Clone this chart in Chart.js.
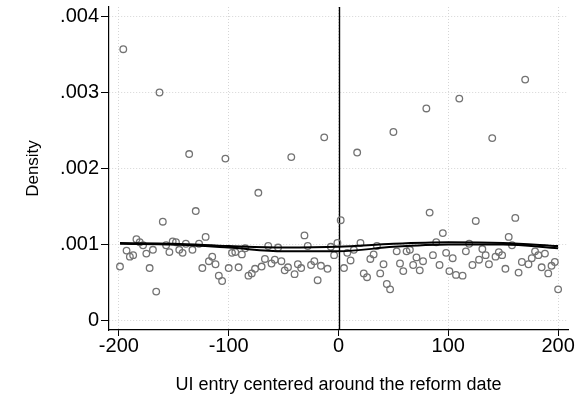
<!DOCTYPE html>
<html>
<head>
<meta charset="utf-8">
<script src="https://cdn.jsdelivr.net/npm/chart.js@4/dist/chart.umd.min.js"></script>
<style>
  html, body { margin: 0; padding: 0; background: #fff; }
  #wrap { width: 586px; height: 396px; }
</style>
</head>
<body>
<div id="wrap"><canvas id="c" width="586" height="396"></canvas></div>
<script>
// Binned density of UI entries (days relative to the reform date)
const binX = [
  -199, -196, -193, -190, -187, -184, -181, -178, -175, -172, -169, -166, -163, -160, -157, -154, -151,
  -148, -145, -142, -139, -136, -133, -130, -127, -124, -121, -118, -115, -112, -109, -106, -103, -100,
  -97, -94, -91, -88, -85, -82, -79, -76, -73, -70, -67, -64, -61, -58, -55, -52, -49, -46, -43, -40,
  -37, -34, -31, -28, -25, -22, -19, -16, -13, -10, -7, -4, -1,
  2, 5, 8, 11, 14, 17, 20, 23, 26, 29, 32, 35, 38, 41, 44, 47, 50, 53, 56, 59, 62, 65, 68, 71, 74, 77,
  80, 83, 86, 89, 92, 95, 98, 101, 104, 107, 110, 113, 116, 119, 122, 125, 128, 131, 134, 137, 140,
  143, 146, 149, 152, 155, 158, 161, 164, 167, 170, 173, 176, 179, 182, 185, 188, 191, 194, 197, 200
];
const binDensity = [
  0.00071, 0.00357, 0.00092, 0.00084, 0.00086, 0.00107, 0.00103, 0.00099, 0.00088, 0.00069, 0.00093, 0.00038, 0.00300, 0.00130, 0.00099, 0.00090, 0.00104,
  0.00103, 0.00093, 0.00089, 0.00101, 0.00219, 0.00093, 0.00144, 0.00101, 0.00069, 0.00110, 0.00078, 0.00084, 0.00074, 0.00059, 0.00052, 0.00213, 0.00069,
  0.00089, 0.00090, 0.00070, 0.00087, 0.00095, 0.00059, 0.00062, 0.00068, 0.00168, 0.00071, 0.00081, 0.00098, 0.00075, 0.00080, 0.00096, 0.00078, 0.00066, 0.00070, 0.00215, 0.00061,
  0.00074, 0.00069, 0.00112, 0.00098, 0.00073, 0.00078, 0.00053, 0.00072, 0.00241, 0.00068, 0.00097, 0.00086, 0.00102,
  0.00132, 0.00069, 0.00089, 0.00079, 0.00093, 0.00221, 0.00102, 0.00062, 0.00057, 0.00081, 0.00087, 0.00098, 0.00062, 0.00074, 0.00048, 0.00041, 0.00248, 0.00091, 0.00075, 0.00065, 0.00091, 0.00093, 0.00073, 0.00083, 0.00066, 0.00078,
  0.00279, 0.00142, 0.00086, 0.00103, 0.00073, 0.00115, 0.00089, 0.00065, 0.00082, 0.00060, 0.00292, 0.00059, 0.00091, 0.00101, 0.00073, 0.00131, 0.00080, 0.00094, 0.00086, 0.00074, 0.00240,
  0.00084, 0.00090, 0.00086, 0.00068, 0.00110, 0.00099, 0.00135, 0.00063, 0.00077, 0.00317, 0.00074, 0.00082, 0.00091, 0.00086, 0.00070, 0.00088, 0.00062, 0.00072, 0.00077, 0.00041
];

// Smoothed density fits
const fitX = [-199, -150, -100, -50, 0, 50, 100, 150, 200];
const fitUpper = [0.00102, 0.00101, 0.00098, 0.00096, 0.00097, 0.00101, 0.00103, 0.00102, 0.00098];
const fitLower = [0.00101, 0.00100, 0.00096, 0.00091, 0.00091, 0.00097, 0.00100, 0.00100, 0.00095];

const xTicks = [-200, -100, 0, 100, 200];
const yTicks = [0, 0.001, 0.002, 0.003, 0.004];
const cutoff = 0;

const FONT = "'Liberation Sans', Arial, Helvetica, sans-serif";

const toPts = (xs, ys) => xs.map((x, i) => ({ x: x, y: ys[i] }));

// vertical line at the reform date
const cutoffLine = {
  id: 'cutoffLine',
  beforeDatasetsDraw(chart) {
    const { ctx, chartArea, scales } = chart;
    const px = Math.round(scales.x.getPixelForValue(cutoff)) + 0.5;
    ctx.save();
    ctx.strokeStyle = '#000';
    ctx.lineWidth = 1.4;
    ctx.beginPath();
    ctx.moveTo(px, chartArea.top);
    ctx.lineTo(px, chartArea.bottom);
    ctx.stroke();
    ctx.restore();
  }
};

new Chart(document.getElementById('c'), {
  type: 'scatter',
  data: {
    datasets: [
      {
        type: 'line',
        data: toPts(fitX, fitUpper),
        borderColor: '#000',
        borderWidth: 2,
        pointRadius: 0,
        cubicInterpolationMode: 'monotone',
        fill: false
      },
      {
        type: 'line',
        data: toPts(fitX, fitLower),
        borderColor: '#000',
        borderWidth: 2,
        pointRadius: 0,
        cubicInterpolationMode: 'monotone',
        fill: false
      },
      {
        data: toPts(binX, binDensity),
        pointRadius: 3.3,
        pointBorderWidth: 1.3,
        pointBorderColor: '#737373',
        pointBackgroundColor: 'rgba(0,0,0,0)'
      }
    ]
  },
  options: {
    responsive: false,
    animation: false,
    layout: { padding: { top: 7, right: 18, left: 0, bottom: 0 } },
    plugins: {
      legend: { display: false },
      tooltip: { enabled: false }
    },
    scales: {
      x: {
        type: 'linear',
        min: -209,
        max: 209,
        afterBuildTicks: s => { s.ticks = xTicks.map(v => ({ value: v })); },
        afterFit: s => { s.height = 66; s.paddingLeft = 0; s.paddingRight = 0; },
        ticks: {
          color: '#000',
          font: { family: FONT, size: 20 },
          padding: -2,
          maxRotation: 0,
          callback: v => String(v)
        },
        grid: {
          color: '#d6d6d6',
          lineWidth: 1,
          tickLength: 6,
          tickColor: '#000',
          tickBorderDash: []
        },
        border: { display: true, color: '#000', width: 1.2, dash: [1, 2] },
        title: {
          display: true,
          text: 'UI entry centered around the reform date',
          color: '#000',
          font: { family: FONT, size: 18 },
          padding: { top: 12, bottom: 0 }
        }
      },
      y: {
        type: 'linear',
        min: -0.000125,
        max: 0.004125,
        afterBuildTicks: s => { s.ticks = yTicks.map(v => ({ value: v })); },
        afterFit: s => { s.width = 109; s.paddingTop = 0; s.paddingBottom = 0; },
        ticks: {
          color: '#000',
          font: { family: FONT, size: 20 },
          padding: 2,
          callback: v => v === 0 ? '0' : String(v.toFixed(3)).replace(/^0/, '')
        },
        grid: {
          color: '#d6d6d6',
          lineWidth: 1,
          tickLength: 8,
          tickColor: '#000',
          tickBorderDash: []
        },
        border: { display: true, color: '#000', width: 1.2, dash: [1, 2] },
        title: {
          display: true,
          text: 'Density',
          color: '#000',
          font: { family: FONT, size: 17 },
          padding: { top: 23, bottom: 0 }
        }
      }
    }
  },
  plugins: [cutoffLine]
});
</script>
</body>
</html>
